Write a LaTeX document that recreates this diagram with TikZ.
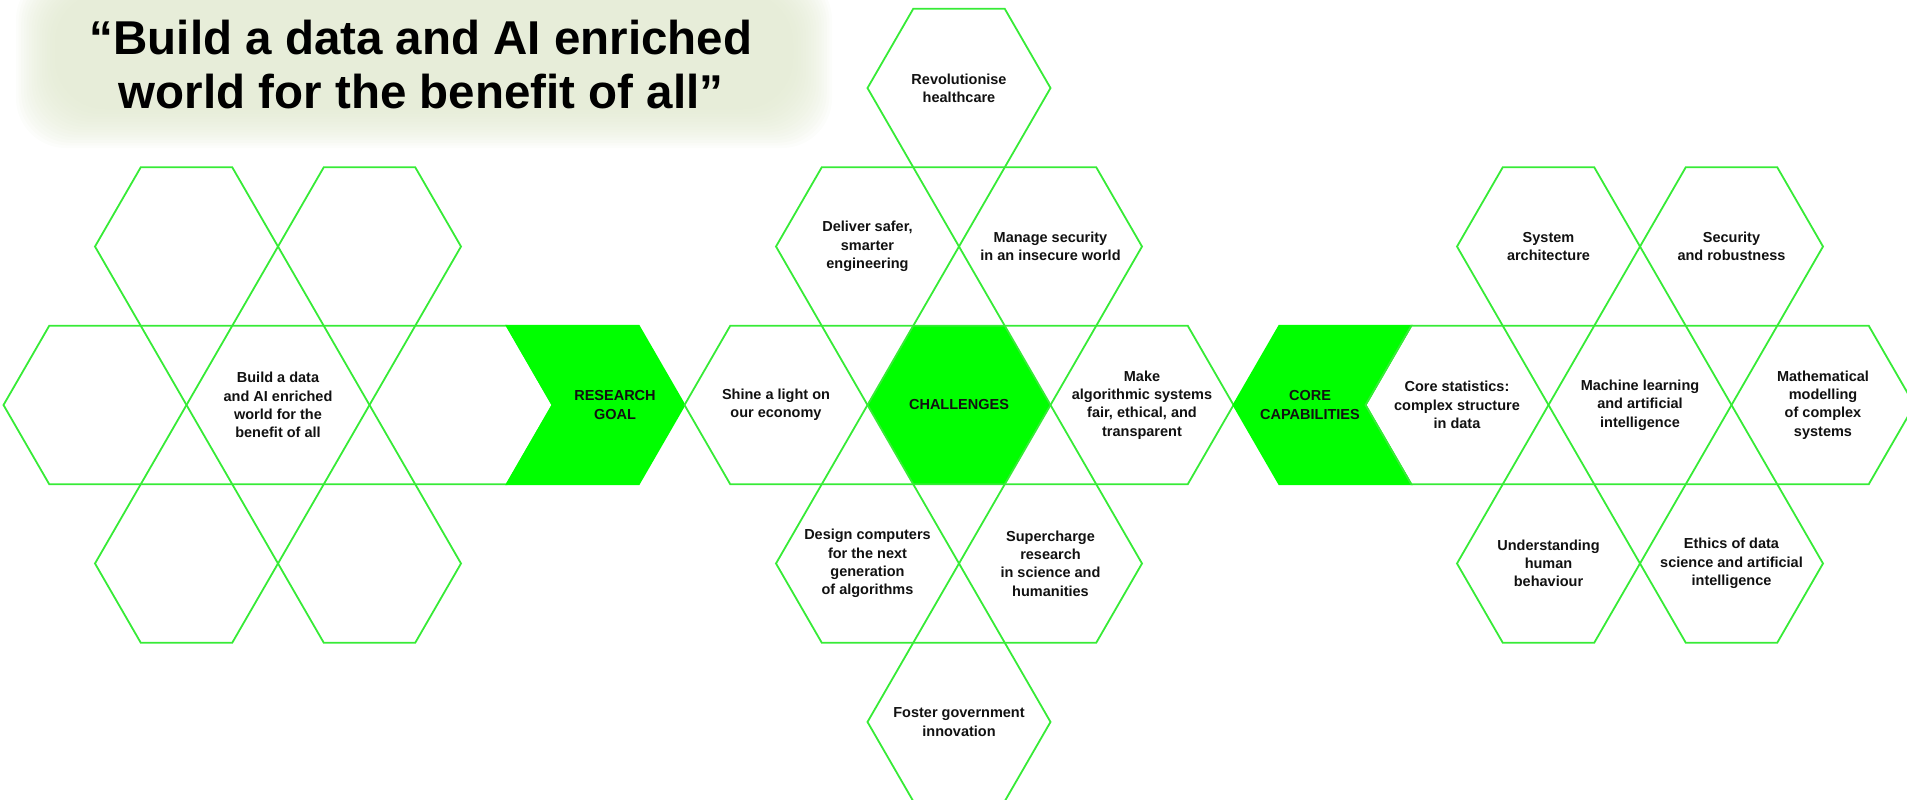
\documentclass[tikz,border=0pt]{standalone}
\usepackage{fontspec}
\setmainfont{Liberation Sans}
\usepackage{xcolor}
\usepackage{tikz}
\usetikzlibrary{shapes.geometric}
\usetikzlibrary{positioning}
\definecolor{hexline}{RGB}{55,235,55}
\definecolor{hexfill}{RGB}{0,255,0}
\definecolor{titlebg}{RGB}{224,232,206}
\definecolor{ink}{RGB}{17,17,17}
\tikzstyle{hexcell}=[regular polygon,regular polygon sides=6,minimum size=183pt,inner sep=0pt,outer sep=0pt,draw=hexline,line width=1.8pt]
\tikzstyle{hexlabel}=[align=center,text=ink,inner sep=0pt,font=\fontsize{14.5}{18.3}\selectfont\bfseries]
\tikzstyle{chev}=[fill=hexfill,draw=hexfill,line width=1.8pt]
\tikzset{titletext/.style={align=center,inner sep=0pt,font=\fontsize{47.5}{54}\selectfont\bfseries}}

\begin{document}
\begin{tikzpicture}[x=1pt,y=-1pt]

 \useasboundingbox (0,0) rectangle (1907,800);

 %title
 \foreach \i in {0,...,15}
   \fill[titlebg,opacity=0.09,rounded corners=50pt] (16+2.6*\i,-30+1.5*\i) rectangle (832-2.6*\i,148-2.6*\i);
 \node[titletext] (title) at (421,65) {“Build a data and AI enriched\\world for the benefit of all”};

 \def\u{91.5};
 \def\v{158.48};
 \def\dy{405};

 %goal
 \def\dx{95};
   \foreach \x/\y/\name in {0/0/goalA, 2/0/goal, 4/0/goalC, 1/-1/goalNW, 3/-1/goalNE, 1/1/goalSW, 3/1/goalSE}
          \node[hexcell] (\name) at (\x*\u+\dx, \y*\v + \dy) {};

 \node[hexlabel] (goal-l) at (goal) {Build a data\\and AI enriched\\world for the\\benefit of all};

 \path[chev] (goalC.east) -- ++(-45.75,-79.24) -- ++(132,0) -- ++(45.75,79.24)
   -- ++(-45.75,79.24) -- ++(-132,0) -- cycle;
 \node[hexlabel] (goal-c) at (615,405) {RESEARCH\\GOAL};

 %challenges
 \def\dx{776};
 \node[hexcell,fill=hexfill] (chal) at (2*\u+\dx, \dy) {};
   \foreach \x/\y/\name in {0/0/shine, 4/0/fair, 1/-1/eng, 3/-1/secw, 2/-2/health, 1/1/comp, 3/1/sci, 2/2/gov}
          \node[hexcell] (\name) at (\x*\u+\dx, \y*\v + \dy) {};

   \foreach \name/\label in {chal/{CHALLENGES}, shine/{Shine a light on\\our economy},
        fair/{Make\\algorithmic systems\\fair, ethical, and\\transparent},
        eng/{Deliver safer,\\smarter\\engineering}, secw/{Manage security\\in an insecure world},
        health/{Revolutionise\\healthcare}, comp/{Design computers\\for the next\\generation\\of algorithms},
        sci/{Supercharge\\research\\in science and\\humanities}, gov/{Foster government\\innovation}}
          \node[hexlabel] (\name-l) at (\name) {\label};

 %core capabilities
 \path[chev] (fair.east) -- ++(45.75,-79.24) -- ++(132,0) -- ++(-45.75,79.24)
   -- ++(45.75,79.24) -- ++(-132,0) -- cycle;
 \node[hexlabel] (core-c) at (1310,405) {CORE\\CAPABILITIES};

 \def\dx{1457};
   \foreach \x/\y/\name in {0/0/stat, 2/0/ml, 4/0/math, 1/-1/arch, 3/-1/robust, 1/1/human, 3/1/ethics}
          \node[hexcell] (\name) at (\x*\u+\dx, \y*\v + \dy) {};

   \foreach \name/\label in {stat/{Core statistics:\\complex structure\\in data}, ml/{Machine learning\\and artificial\\intelligence},
        math/{Mathematical\\modelling\\of complex\\systems}, arch/{System\\architecture}, robust/{Security\\and robustness},
        human/{Understanding\\human\\behaviour}, ethics/{Ethics of data\\science and artificial\\intelligence}}
          \node[hexlabel] (\name-l) at (\name) {\label};

\end{tikzpicture}
\end{document}
